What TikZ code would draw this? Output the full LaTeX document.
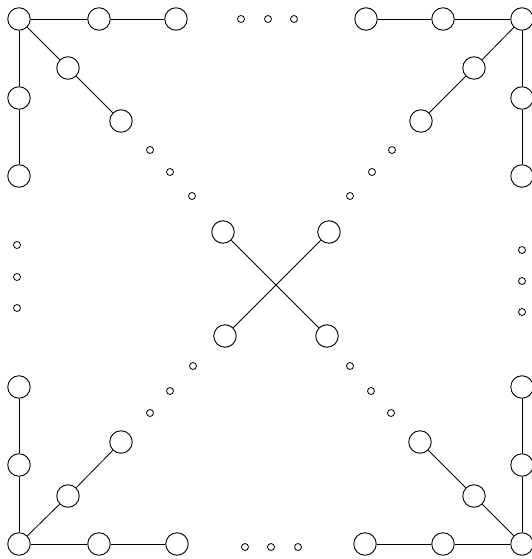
\documentclass[tikz,border=0pt]{standalone}
\usetikzlibrary{positioning}
\tikzset{
  % --- vertices --------------------------------------------------------------
  vert/.style={circle,draw,line width=0.9pt,minimum size=22.5pt,inner sep=0pt},
  ell/.style={circle,draw,line width=0.8pt,minimum size=7pt,inner sep=0pt},
  % --- edges -----------------------------------------------------------------
  edge/.style={line width=0.8pt},
}
\begin{document}
\begin{tikzpicture}[x=1pt, y=-1pt]
  \useasboundingbox (0,0) rectangle (532,559);
  % top-left corner
  \node[vert] (tl)  at (19,19)   {};
  \node[vert] (tlh1) at (99,19)  {};
  \node[vert] (tlh2) at (176,19) {};
  \node[vert] (tlv1) at (19,98)  {};
  \node[vert] (tlv2) at (19,176) {};
  \node[vert] (tld1) at (68,68)  {};
  \node[vert] (tld2) at (121,121) {};
  \draw[edge] (tl) -- (tlh1) -- (tlh2);
  \draw[edge] (tl) -- (tlv1) -- (tlv2);
  \draw[edge] (tl) -- (tld1) -- (tld2);

  % top-right corner
  \node[vert] (tr)  at (522,19)  {};
  \node[vert] (trh1) at (443,19) {};
  \node[vert] (trh2) at (366,19) {};
  \node[vert] (trv1) at (522,98) {};
  \node[vert] (trv2) at (522,176) {};
  \node[vert] (trd1) at (474,68) {};
  \node[vert] (trd2) at (421,121) {};
  \draw[edge] (tr) -- (trh1) -- (trh2);
  \draw[edge] (tr) -- (trv1) -- (trv2);
  \draw[edge] (tr) -- (trd1) -- (trd2);

  % bottom-left corner
  \node[vert] (bl)  at (19,544)  {};
  \node[vert] (blh1) at (99,544) {};
  \node[vert] (blh2) at (177,544) {};
  \node[vert] (blv1) at (19,465) {};
  \node[vert] (blv2) at (19,387) {};
  \node[vert] (bld1) at (68,496) {};
  \node[vert] (bld2) at (121,442) {};
  \draw[edge] (bl) -- (blh1) -- (blh2);
  \draw[edge] (bl) -- (blv1) -- (blv2);
  \draw[edge] (bl) -- (bld1) -- (bld2);

  % bottom-right corner
  \node[vert] (br)  at (522,544) {};
  \node[vert] (brh1) at (443,544) {};
  \node[vert] (brh2) at (365,544) {};
  \node[vert] (brv1) at (522,465) {};
  \node[vert] (brv2) at (522,387) {};
  \node[vert] (brd1) at (474,496) {};
  \node[vert] (brd2) at (420,442) {};
  \draw[edge] (br) -- (brh1) -- (brh2);
  \draw[edge] (br) -- (brv1) -- (brv2);
  \draw[edge] (br) -- (brd1) -- (brd2);

  % centre cross
  \node[vert] (cnw) at (223,232) {};
  \node[vert] (cne) at (329,232) {};
  \node[vert] (csw) at (225,336) {};
  \node[vert] (cse) at (327,336) {};
  \draw[edge] (cnw) -- (cse);
  \draw[edge] (cne) -- (csw);

  % ellipses
  \foreach \x [count=\i] in {241,268,294}
    \node[ell] (et\i) at (\x,19) {};
  \foreach \x [count=\i] in {245,271,298}
    \node[ell] (eb\i) at (\x,547) {};
  \foreach \y [count=\i] in {245,277,308}
    \node[ell] (el\i) at (17,\y) {};
  \foreach \y [count=\i] in {250,281,312}
    \node[ell] (er\i) at (522,\y) {};
  \foreach \x/\y [count=\i] in {150/150,170/172,192/196}
    \node[ell] (enw\i) at (\x,\y) {};
  \foreach \x/\y [count=\i] in {392/150,372/172,350/196}
    \node[ell] (ene\i) at (\x,\y) {};
  \foreach \x/\y [count=\i] in {150/413,170/391,193/366}
    \node[ell] (esw\i) at (\x,\y) {};
  \foreach \x/\y [count=\i] in {391/413,371/391,350/366}
    \node[ell] (ese\i) at (\x,\y) {};
\end{tikzpicture}
\end{document}
